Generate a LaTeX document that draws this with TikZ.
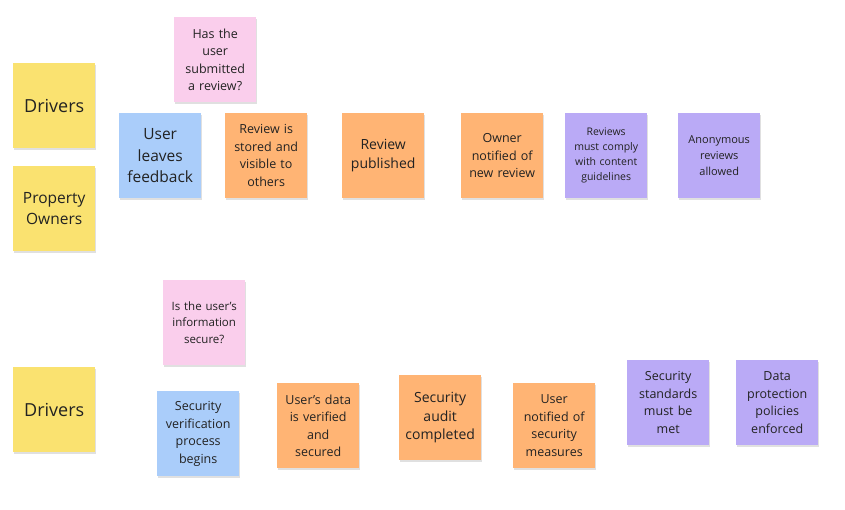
\documentclass[tikz,border=0pt]{standalone}
\usepackage{fontspec}
\setmainfont{Open Sans}
\usetikzlibrary{shadows}
\definecolor{stickyyellow}{RGB}{250,226,112}
\definecolor{stickypink}{RGB}{250,206,236}
\definecolor{stickyblue}{RGB}{170,205,250}
\definecolor{stickyorange}{RGB}{255,180,116}
\definecolor{stickypurple}{RGB}{186,170,246}
\definecolor{stickytext}{RGB}{34,34,34}
\tikzset{
  sticky/.style={anchor=north west, minimum width=82pt, minimum height=85pt,
    inner sep=0pt, align=center, text width=80pt, text=stickytext,
    drop shadow={shadow xshift=0.5pt, shadow yshift=-2pt, opacity=0.12, fill=black}},
  fbig/.style={font=\fontsize{18}{22}\selectfont},
  fmid/.style={font=\fontsize{15.5}{21.5}\selectfont},
  fnorm/.style={font=\fontsize{12.5}{17.5}\selectfont},
  fpub/.style={font=\fontsize{14}{18.8}\selectfont},
  fsmall/.style={font=\fontsize{10.5}{15}\selectfont},
  fanon/.style={font=\fontsize{11}{16}\selectfont},
  fsec/.style={font=\fontsize{11.5}{16.7}\selectfont},
  yel/.style={sticky, fill=stickyyellow},
  pnk/.style={sticky, fill=stickypink},
  blu/.style={sticky, fill=stickyblue},
  org/.style={sticky, fill=stickyorange},
  pur/.style={sticky, fill=stickypurple},
}
\begin{document}
\begin{tikzpicture}[x=1pt,y=-1pt]
\useasboundingbox[fill=white] (0,0) rectangle (845,510);
% top section
\node[yel, fbig] (drv1) at (13,63) {Drivers};
\node[yel, fmid] (own) at (13,166) {Property\\Owners};
\node[pnk, fnorm] (q1) at (174,17) {Has the\\user\\submitted\\a review?};
\node[blu, fmid] (fb) at (119,113) {User\\leaves\\feedback};
\node[org, fnorm] (stored) at (225,113) {Review is\\stored and\\visible to\\others};
\node[org, fpub] (pub) at (342,113) {Review\\published};
\node[org, fnorm] (ownnot) at (461,113) {Owner\\notified of\\new review};
\node[pur, fsmall] (comply) at (565,113) {Reviews\\must comply\\with content\\guidelines};
\node[pur, fanon] (anon) at (678,113) {Anonymous\\reviews\\allowed};
% bottom section
\node[pnk, fsec] (q2) at (163,280) {Is the user's\\information\\secure?};
\node[yel, fbig] (drv2) at (13,367) {Drivers};
\node[blu, fnorm] (verif) at (157,391) {Security\\verification\\process\\begins};
\node[org, fnorm] (data) at (277,383) {User's data\\is verified\\and\\secured};
\node[org, fpub] (audit) at (399,375) {Security\\audit\\completed};
\node[org, fnorm] (usernot) at (513,383) {User\\notified of\\security\\measures};
\node[pur, fnorm] (stand) at (627,360) {Security\\standards\\must be\\met};
\node[pur, fnorm] (policy) at (736,360) {Data\\protection\\policies\\enforced};
\end{tikzpicture}
\end{document}
